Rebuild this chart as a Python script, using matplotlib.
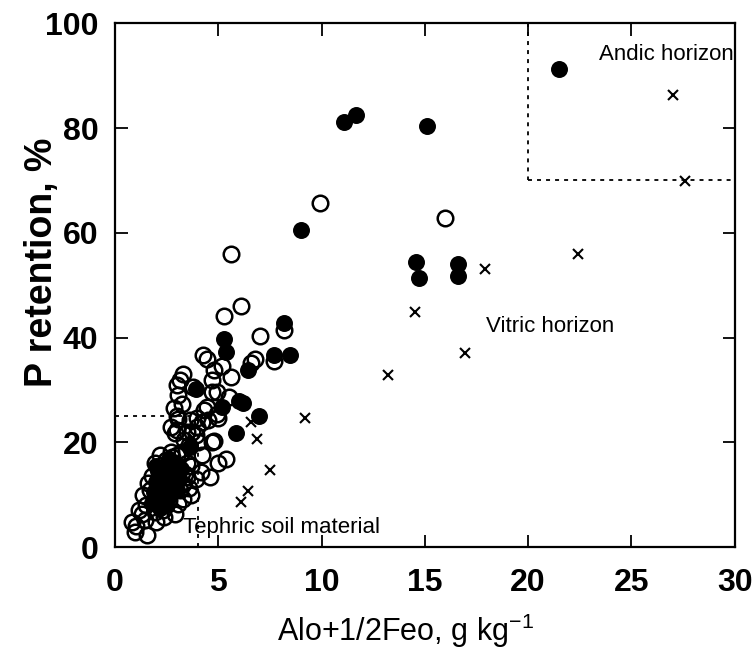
import matplotlib
matplotlib.use("Agg")
import matplotlib.pyplot as plt

# ---- data ----
open_x = [5.6, 6.1, 5.3, 7.0, 8.2, 9.9, 15.95, 4.25, 4.45, 5.2, 4.8, 6.8, 6.6, 7.7,
          3.3, 3.15, 3.0, 3.8, 4.7, 5.6, 4.95, 4.7, 3.07, 3.24, 5.5, 4.45, 4.3, 4.95,
          2.85, 3.0, 3.07, 2.7, 2.9, 3.0, 3.65, 3.95, 4.2, 4.5, 5.0, 3.95, 3.5, 3.75,
          3.9, 4.7, 4.8, 3.25, 5.35, 5.0, 4.15, 4.6, 3.7, 3.5, 2.75, 2.45, 1.95, 1.6,
          1.35, 1.15, 0.8, 0.95, 1.55, 1.45, 1.95, 2.35, 2.9, 3.05, 3.15,
          1.5, 1.7, 2.0, 2.3, 2.6, 2.8, 3.3, 3.5, 3.6, 3.3, 1.8, 2.2, 2.7, 3.0, 3.7,
          3.9, 2.4, 2.1, 3.4, 2.5, 1.3, 1.0, 2.0, 3.1, 3.6, 3.35, 4.2, 4.0]
open_y = [55.9, 46.0, 44.1, 40.3, 41.4, 65.7, 62.9, 36.6, 36.0, 34.5, 33.8, 36.0, 35.1, 35.6,
          33.1, 31.9, 31.0, 30.6, 31.9, 32.5, 29.6, 29.6, 29.0, 27.4, 28.7, 26.8, 26.1, 25.5,
          26.5, 25.0, 24.4, 23.0, 21.8, 22.3, 24.2, 24.6, 23.9, 24.2, 24.6, 23.0, 22.0, 22.0,
          21.4, 20.1, 20.3, 18.2, 16.9, 16.0, 14.4, 13.4, 9.9, 13.4, 17.2, 16.6, 16.0, 12.2,
          9.9, 7.1, 4.8, 2.9, 2.3, 5.2, 6.7, 5.8, 6.4, 8.3, 10.9,
          8.0, 11.0, 8.5, 7.0, 9.0, 11.5, 12.0, 16.0, 11.2, 9.2, 13.5, 17.5, 18.2, 17.5, 15.5,
          13.0, 14.8, 11.8, 14.0, 12.8, 6.3, 4.0, 4.8, 15.2, 19.5, 20.5, 17.5, 20.0]

filled_x = [21.5, 15.1, 11.1, 11.65, 9.0, 14.55, 14.7, 16.6, 16.6, 8.2, 5.3, 5.35, 7.7,
            8.45, 6.45, 3.9, 6.0, 6.2, 5.2, 6.95, 5.85, 3.65,
            1.9, 2.0, 2.1, 2.2, 2.3, 2.4, 2.5, 2.6, 2.7, 2.8, 2.9, 3.0, 3.1, 2.2, 1.8,
            2.5, 3.2, 2.6, 2.0]
filled_y = [91.2, 80.3, 81.2, 82.4, 60.5, 54.5, 51.4, 54.0, 51.8, 42.7, 39.7, 37.3, 36.6,
            36.6, 33.9, 30.2, 27.8, 27.6, 26.8, 25.1, 21.8, 19.1,
            10.5, 12.5, 14.5, 9.0, 11.5, 13.5, 15.5, 10.0, 12.5, 14.0, 16.0, 11.0, 13.0, 7.5, 8.5,
            8.0, 15.0, 16.8, 15.5]

cross_x = [27.0, 27.6, 22.4, 17.9, 14.5, 16.95, 13.2, 9.2, 6.6, 6.85, 7.5, 6.45, 6.1]
cross_y = [86.3, 69.9, 56.0, 53.0, 44.9, 37.0, 32.8, 24.7, 23.9, 20.6, 14.7, 10.8, 8.6]

x_ticks = [0, 5, 10, 15, 20, 25, 30]
y_ticks = [0, 20, 40, 60, 80, 100]

# ---- figure ----
plt.rcParams['font.family'] = ['Liberation Sans', 'DejaVu Sans']
fig = plt.figure(figsize=(7.54, 6.64), dpi=100)
ax = fig.add_axes([0.1525, 0.176, 0.822, 0.789])

# threshold boxes (dotted)
ls = (0, (2.2, 2.8))
ax.plot([20, 20], [100, 70], color='black', lw=1.3, linestyle=ls, zorder=1)
ax.plot([20, 30], [70, 70], color='black', lw=1.3, linestyle=ls, zorder=1)
ax.plot([0, 4], [25, 25], color='black', lw=1.3, linestyle=ls, zorder=1)
ax.plot([4, 4], [0, 25], color='black', lw=1.3, linestyle=ls, zorder=1)

ax.plot(open_x, open_y, linestyle='none', marker='o', ms=11.2, mfc='none',
        mec='black', mew=1.8, zorder=2)
ax.plot(filled_x, filled_y, linestyle='none', marker='o', ms=11.2, mfc='black',
        mec='black', mew=1.0, zorder=3)
ax.plot(cross_x, cross_y, linestyle='none', marker='x', ms=7, mec='black',
        mew=1.5, zorder=3)

ax.set_xlim(0, 30)
ax.set_ylim(0, 100)
ax.set_xticks(x_ticks)
ax.set_yticks(y_ticks)
ax.set_xticklabels([str(v) for v in x_ticks], fontsize=23, fontweight='bold')
ax.set_yticklabels([str(v) for v in y_ticks], fontsize=23, fontweight='bold')
ax.tick_params(direction='in', length=9, width=1.3, top=True, right=True)
ax.tick_params(axis='x', pad=15)
ax.tick_params(axis='y', pad=12)
for s in ax.spines.values():
    s.set_linewidth(1.6)

ax.set_xlabel(r'Alo+1/2Feo, g kg$^{\mathregular{-1}}$', fontsize=22)
ax.xaxis.set_label_coords(0.468, -0.124)
ax.set_ylabel('P retention, %', fontsize=27, fontweight='bold')
ax.yaxis.set_label_coords(-0.089, 0.543)

tfam = ['Liberation Sans Narrow', 'Liberation Sans', 'DejaVu Sans']
ax.text(23.45, 94, 'Andic horizon', fontsize=16, family=tfam, ha='left', va='center')
ax.text(17.95, 42.2, 'Vitric horizon', fontsize=16, family=tfam, ha='left', va='center')
ax.text(3.3, 3.8, 'Tephric soil material', fontsize=16, family=tfam, ha='left', va='center')

fig.savefig('out.png', dpi=100)
